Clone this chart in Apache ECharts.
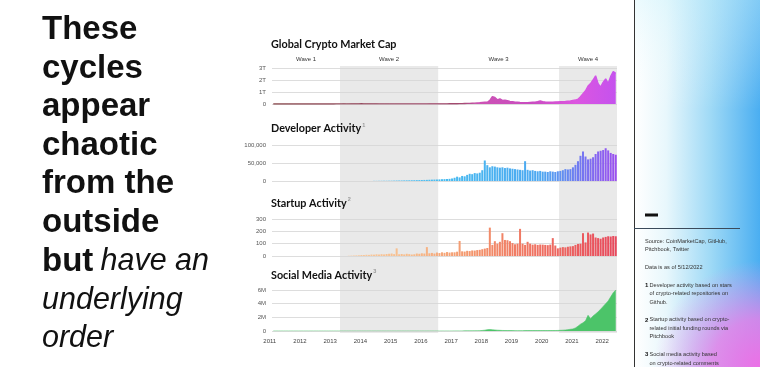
<!DOCTYPE html>
<html><head><meta charset="utf-8">
<script src="https://cdn.jsdelivr.net/npm/echarts@6/dist/echarts.min.js"></script>
<style>html,body{margin:0;padding:0;background:#fff;}#c{width:760px;height:367px;}</style>
</head><body><div id="c"></div>
<script>
// ---------- DATA ----------
const months = [];
for (let y = 2011; y <= 2022; y++) {
  for (let m = 1; m <= 12; m++) {
    if (y === 2022 && m > 5) break;
    months.push(y + '-' + String(m).padStart(2, '0'));
  }
}
// Global crypto market cap, trillions USD (monthly)
const marketCapT = [
  0.002,0.002,0.002,0.002,0.003,0.004,0.003,0.003,0.002,0.002,0.002,0.002, // 2011
  0.002,0.003,0.003,0.003,0.003,0.003,0.004,0.004,0.004,0.004,0.004,0.005, // 2012
  0.006,0.008,0.010,0.010,0.011,0.010,0.010,0.011,0.012,0.013,0.014,0.015, // 2013
  0.014,0.013,0.012,0.012,0.011,0.011,0.010,0.010,0.009,0.009,0.008,0.008, // 2014
  0.007,0.007,0.007,0.007,0.007,0.007,0.008,0.008,0.008,0.008,0.009,0.010, // 2015
  0.010,0.010,0.011,0.011,0.012,0.013,0.013,0.013,0.014,0.014,0.015,0.016, // 2016
  0.02,0.02,0.03,0.03,0.04,0.05,0.05,0.06,0.07,0.09,0.10,0.12,             // 2017
  0.14,0.15,0.30,0.62,0.55,0.35,0.43,0.30,0.32,0.28,0.22,0.20,             // 2018
  0.16,0.14,0.12,0.11,0.10,0.10,0.12,0.14,0.16,0.20,0.26,0.20,             // 2019
  0.17,0.15,0.14,0.15,0.17,0.18,0.19,0.20,0.21,0.23,0.25,0.30,             // 2020
  0.33,0.40,0.60,0.85,1.10,1.50,1.70,2.00,2.35,1.70,1.40,1.80,             // 2021
  2.10,1.70,2.30,2.70,2.55                                                 // 2022
];
// Developer activity (GitHub stars, monthly)
const devStars = [
  0,0,0,0,0,0,0,0,0,0,0,0,
  0,0,0,0,0,0,0,0,0,0,0,0,
  0,0,0,0,0,0,0,0,0,0,0,0,
  0,0,0,0,500,500,600,700,800,800,900,1000,
  1200,1400,1500,1600,1800,1900,2000,2200,2300,2500,2600,2800,
  3000,3200,3500,3800,4000,4200,4500,5000,5200,5600,6000,7000,
  9000,12000,10000,14000,13000,17000,20000,19000,22000,21000,23000,30000,
  57000,44000,38000,41000,40000,38000,37000,38000,36000,37000,35000,34000,
  33000,32000,31000,30000,55000,31000,29000,30000,28000,27000,28000,26000,
  26000,25000,27000,26000,25000,27000,28000,30000,33000,32000,33000,38000,
  45000,55000,70000,82000,68000,60000,62000,66000,75000,82000,84000,86000,
  91000,85000,78000,75000,73000
];
// Startup activity (initial funding rounds, monthly)
const startupRounds = [
  0,0,0,0,0,0,0,0,0,0,0,0,
  0,0,0,0,0,0,0,0,0,0,0,0,
  0,0,0,0,0,0,2,3,4,5,6,8,
  8,10,9,12,11,14,12,15,13,16,18,20,
  15,62,14,16,13,18,15,12,14,20,18,22,
  20,72,22,25,20,28,24,30,26,32,28,30,
  30,35,122,38,36,42,40,45,44,48,50,55,
  60,65,230,90,120,100,115,185,130,128,120,105,
  95,100,220,100,90,115,100,92,95,90,93,92,
  90,88,92,145,85,62,68,72,70,75,78,80,
  90,98,100,185,110,190,175,182,150,145,140,150,
  155,160,158,162,160
];
// Social media activity (millions of comments, monthly)
const socialMillions = [
  0,0,0,0,0,0,0,0,0,0,0,0,
  0,0,0,0,0,0,0,0,0,0,0,0,
  0,0,0,0,0,0,0,0,0,0,0,0,
  0,0,0,0,0,0,0,0,0,0,0,0,
  0,0,0,0,0,0,0,0,0,0,0,0,
  0,0,0,0,0,0,0,0,0,0,0,0,
  0.01,0.01,0.01,0.01,0.02,0.02,0.02,0.02,0.03,0.03,0.05,0.08,
  0.12,0.20,0.22,0.18,0.15,0.12,0.10,0.08,0.07,0.06,0.06,0.06,
  0.05,0.05,0.05,0.05,0.06,0.06,0.06,0.06,0.06,0.06,0.06,0.06,
  0.06,0.06,0.07,0.07,0.07,0.08,0.10,0.12,0.15,0.20,0.25,0.30,
  0.45,0.70,1.00,1.20,1.50,2.30,1.80,2.20,2.50,2.80,3.20,3.60,
  4.00,4.40,5.00,5.60,6.00
];
const capTicks = ['0', '1T', '2T', '3T'];
const devTicks = ['0', '50,000', '100,000'];
const startupTicks = ['0', '100', '200', '300'];
const socialTicks = ['0', '2M', '4M', '6M'];
const waves = [
  { name: 'Wave 1', from: '2011-01', to: '2013-04', shaded: false },
  { name: 'Wave 2', from: '2013-04', to: '2016-07', shaded: true },
  { name: 'Wave 3', from: '2016-07', to: '2020-07', shaded: false },
  { name: 'Wave 4', from: '2020-07', to: null, shaded: true }
];
const panelTitles = [
  { text: 'Global Crypto Market Cap', note: '' },
  { text: 'Developer Activity', note: '1' },
  { text: 'Startup Activity', note: '2' },
  { text: 'Social Media Activity', note: '3' }
];
const headline = [
  [['These', 'b']], [['cycles', 'b']], [['appear', 'b']], [['chaotic', 'b']],
  [['from the', 'b']], [['outside', 'b']], [['but', 'b'], ['have an', 'i']],
  [['underlying', 'i']], [['order', 'i']]
];
const notes = [
  ['', 'Source: CoinMarketCap, GitHub,'],
  ['', 'Pitchbook, Twitter'],
  null,
  ['', 'Data is as of 5/12/2022'],
  null,
  ['1', 'Developer activity based on stars'],
  ['', 'of crypto-related repositories on', true],
  ['', 'Github.', true],
  null,
  ['2', 'Startup activity based on crypto-'],
  ['', 'related initial funding rounds via', true],
  ['', 'Pitchbook', true],
  null,
  ['3', 'Social media activity based'],
  ['', 'on crypto-related comments', true]
];

// ---------- LAYOUT ----------
const PL = 272, PR = 617;
const grids = [
  { left: PL, right: 760 - PR, top: 68, height: 36 },
  { left: PL, right: 760 - PR, top: 145, height: 36 },
  { left: PL, right: 760 - PR, top: 219, height: 37 },
  { left: PL, right: 760 - PR, top: 290, height: 41 },
  { left: PL, right: 760 - PR, top: 66, height: 267 }
];
const G = echarts.graphic;
const capGrad = new G.LinearGradient(PL, 0, PR, 0, [
  { offset: 0, color: '#8a4a4e' }, { offset: 0.55, color: '#a44a70' },
  { offset: 0.6, color: '#cc52b4' }, { offset: 0.75, color: '#c94cc0' },
  { offset: 0.88, color: '#dc56e0' }, { offset: 1, color: '#c452ee' }], true);
const devGrad = new G.LinearGradient(PL, 0, PR, 0, [
  { offset: 0, color: '#8fd6f6' }, { offset: 0.5, color: '#47bbf0' },
  { offset: 0.78, color: '#4ea8f1' }, { offset: 0.87, color: '#6a82f1' },
  { offset: 1, color: '#9c4ef0' }], true);
const startGrad = new G.LinearGradient(PL, 0, PR, 0, [
  { offset: 0, color: '#fbd9b4' }, { offset: 0.4, color: '#f7bd8c' },
  { offset: 0.58, color: '#f3956c' }, { offset: 0.75, color: '#ef7462' },
  { offset: 1, color: '#e8485c' }], true);

const labelStyle = { fontSize: 6, color: '#555', margin: 6, fontFamily: 'Liberation Sans' };
const splitStyle = { show: true, lineStyle: { color: '#d4d4d4', width: 0.8 } };

function yAx(i, max, interval, ticks) {
  return {
    type: 'value', gridIndex: i, min: 0, max: max, interval: interval,
    axisLine: { show: false }, axisTick: { show: false },
    axisLabel: Object.assign({ formatter: v => ticks[Math.round(v / interval)] }, labelStyle),
    splitLine: splitStyle
  };
}
function xAx(i) {
  return {
    type: 'category', gridIndex: i, data: months, boundaryGap: true,
    axisLine: { show: false }, axisTick: { show: false }, splitLine: { show: false },
    axisLabel: i === 3 ? {
      fontSize: 6, color: '#444', margin: 7, fontFamily: 'Liberation Sans',
      interval: (idx, val) => val.endsWith('-01'),
      formatter: val => val.slice(0, 4), padding: [0, 7, 0, 0]
    } : { show: false }
  };
}

// headline graphics
const graphics = [];
const mctx = document.createElement('canvas').getContext('2d');
const fonts = { b: 'bold 33px "Liberation Sans"', i: 'italic 30.5px "Liberation Sans"' };
headline.forEach((line, k) => {
  let x = 42;
  const baseline = 41.3 + 38.6 * k;
  line.forEach(([txt, f]) => {
    graphics.push({ type: 'text', x: x, y: baseline - 11.4, style: { text: txt, font: fonts[f], fill: '#111', align: 'left', verticalAlign: 'middle' } });
    mctx.font = fonts[f];
    x += mctx.measureText(txt + ' ').width - 2;
  });
});
// right panel
graphics.push({ type: 'rect', shape: { x: 635, y: 0, width: 125, height: 367 }, silent: true, z: -10,
  style: { fill: new G.LinearGradient(0, 0, 1, 0, [
    { offset: 0, color: '#ffffff' }, { offset: 0.25, color: '#e8f7fc' },
    { offset: 0.6, color: '#a0daf6' }, { offset: 1, color: '#4aaef1' }]) } });
graphics.push({ type: 'rect', shape: { x: 635, y: 0, width: 125, height: 367 }, silent: true, z: -9,
  style: { fill: new G.LinearGradient(0, 0, 0, 1, [
    { offset: 0, color: 'rgba(210,245,252,0.4)' }, { offset: 0.3, color: 'rgba(255,255,255,0)' },
    { offset: 1, color: 'rgba(255,255,255,0)' }]) } });
graphics.push({ type: 'rect', shape: { x: 635, y: 0, width: 125, height: 367 }, silent: true, z: -8,
  style: { fill: new G.RadialGradient(1.0, 1.0, 0.85, [
    { offset: 0, color: 'rgba(236,112,230,1)' }, { offset: 0.45, color: 'rgba(238,126,232,0.8)' },
    { offset: 1, color: 'rgba(240,150,236,0)' }]) } });
graphics.push({ type: 'line', shape: { x1: 634.5, y1: 0, x2: 634.5, y2: 367 }, style: { stroke: '#333', lineWidth: 1 } });
graphics.push({ type: 'rect', shape: { x: 645, y: 213.5, width: 13, height: 3 }, style: { fill: '#111' } });
graphics.push({ type: 'line', shape: { x1: 634, y1: 228.5, x2: 740, y2: 228.5 }, style: { stroke: '#3a4a5a', lineWidth: 1 } });
let ny = 241;
notes.forEach(n => {
  if (!n) { ny += 9.5; return; }
  if (n[0]) graphics.push({ type: 'text', x: 645, y: ny, style: { text: n[0], font: 'bold 6px "Liberation Sans"', fill: '#111', verticalAlign: 'middle' } });
  graphics.push({ type: 'text', x: (n[0] || n[2]) ? 649.5 : 645, y: ny, style: { text: n[1], font: '5.6px "Liberation Sans"', fill: '#333', verticalAlign: 'middle' } });
  ny += 8.4;
});

const titleTops = [38, 122, 196.5, 268.5];
const option = {
  animation: false,
  backgroundColor: '#ffffff',
  title: panelTitles.map((t, i) => ({
    text: '{t|' + t.text + '}' + (t.note ? '{s|' + t.note + '}' : ''),
    left: PL - 1, top: titleTops[i], padding: 0,
    textStyle: { rich: {
      t: { fontSize: 10.8, fontWeight: 'bold', color: '#111', lineHeight: 14, fontFamily: 'Lato, sans-serif' },
      s: { fontSize: 5.5, color: '#999', lineHeight: 14, verticalAlign: 'top', padding: [0, 0, 7, 1] }
    } }
  })),
  grid: grids,
  xAxis: [xAx(0), xAx(1), xAx(2), xAx(3), { type: 'value', gridIndex: 4, min: 0, max: months.length, show: false }],
  yAxis: [yAx(0, 3, 1, capTicks), yAx(1, 100000, 50000, devTicks), yAx(2, 300, 100, startupTicks), yAx(3, 6, 2, socialTicks),
    { type: 'value', gridIndex: 4, min: 0, max: 1, show: false }],
  graphic: { elements: graphics },
  series: [
    { type: 'line', xAxisIndex: 4, yAxisIndex: 4, data: [], z: -1, silent: true,
      markArea: { silent: true, z: -1,
        label: { show: true, position: 'top', distance: 4, fontSize: 6, color: '#333', fontFamily: 'Liberation Sans' },
        data: waves.map(w => [
          { name: w.name, xAxis: months.indexOf(w.from), itemStyle: { color: w.shaded ? '#e9e9e9' : 'rgba(0,0,0,0)' } },
          { xAxis: w.to ? months.indexOf(w.to) : months.length }
        ]) } },
    { type: 'line', xAxisIndex: 0, yAxisIndex: 0, data: marketCapT, symbol: 'none',
      lineStyle: { width: 1.4, color: capGrad }, areaStyle: { color: capGrad, opacity: 1 } },
    { type: 'bar', xAxisIndex: 1, yAxisIndex: 1, data: devStars, barWidth: '80%', itemStyle: { color: devGrad } },
    { type: 'bar', xAxisIndex: 2, yAxisIndex: 2, data: startupRounds, barWidth: '80%', itemStyle: { color: startGrad } },
    { type: 'line', xAxisIndex: 3, yAxisIndex: 3, data: socialMillions, symbol: 'none',
      lineStyle: { width: 0.6, color: '#4cc469' }, areaStyle: { color: '#4cc469', opacity: 1 } }
  ]
};
const chart = echarts.init(document.getElementById('c'), null, { renderer: 'canvas' });
chart.setOption(option);
</script></body></html>
